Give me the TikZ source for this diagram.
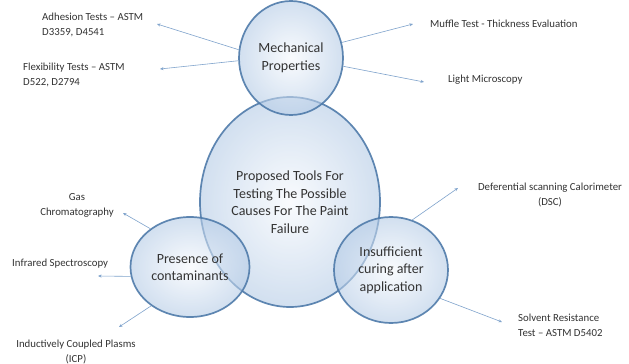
\documentclass[tikz,border=0pt]{standalone}
\usepackage{fontspec}
\setmainfont{Carlito}
\usetikzlibrary{shapes.geometric,arrows.meta}
\definecolor{ringc}{HTML}{4F7BAA}
\definecolor{fillin}{HTML}{F6F9FD}
\definecolor{fillout}{HTML}{B4CBE6}
\definecolor{linkc}{HTML}{7FA3CC}
\definecolor{txtc}{HTML}{333333}
\begin{document}
\begin{tikzpicture}[x=1pt,y=-1pt,
  bubble/.style={ellipse, inner sep=0pt, align=center, text=txtc,
    font=\fontsize{14}{17.5}\selectfont,
    inner color=fillin, outer color=fillout, fill opacity=0.6, text opacity=1,
    draw=ringc, draw opacity=0.9, line width=1.7pt},
  lbl/.style={inner sep=0pt, text=txtc, font=\fontsize{10.8}{15}\selectfont},
  link/.style={draw=linkc, line width=0.6pt, -{Stealth[length=3.5pt,width=3pt]}}]
\useasboundingbox (0,0) rectangle (629,364);
\fill[white] (0,0) rectangle (629,364);
% bubbles
\node[bubble, minimum width=180pt, minimum height=210pt] (core) at (290,202)
  {Proposed Tools For\\Testing The Possible\\Causes For The Paint\\Failure};
\node[bubble, minimum width=104pt, minimum height=114pt] (mech) at (291,58)
  {Mechanical\\Properties};
\node[bubble, minimum width=119pt, minimum height=100pt] (cont) at (190,267)
  {Presence of\\contaminants};
\node[bubble, minimum width=114pt, minimum height=106pt] (cure) at (391,270)
  {Insufficient\\curing after\\application};
% labels
\node[lbl, anchor=west, align=left] (adh) at (42,24.5) {Adhesion Tests – ASTM\\D3359, D4541};
\node[lbl, anchor=west, align=left] (flex) at (23,75) {Flexibility Tests – ASTM\\D522, D2794};
\node[lbl, anchor=west] (muf) at (430,24) {Muffle Test - Thickness Evaluation};
\node[lbl, anchor=west] (lm) at (448,80) {Light Microscopy};
\node[lbl, align=center] (gas) at (77,205.5) {Gas\\Chromatography};
\node[lbl, anchor=west] (ir) at (12,264) {Infrared Spectroscopy};
\node[lbl, align=center] (icp) at (76,351.5) {Inductively Coupled Plasms\\(ICP)};
\node[lbl, align=center] (dsc) at (550,195) {Deferential scanning Calorimeter\\(DSC)};
\node[lbl, anchor=west, align=left] (sol) at (518,325) {Solvent Resistance\\Test – ASTM D5402};
% arrow tips
\coordinate (tadh) at (157,24);
\coordinate (tflex) at (160,69);
\coordinate (tmuf) at (413,24);
\coordinate (tlm) at (424,82);
\coordinate (tgas) at (123,213);
\coordinate (tir) at (98,276);
\coordinate (ticp) at (119,327);
\coordinate (tdsc) at (458,188);
\coordinate (tsol) at (502,322);
% connectors
\draw[link] (mech.171) -- (tadh);
\draw[link] (mech.183) -- (tflex);
\draw[link] (mech.17) -- (tmuf);
\draw[link] (mech.351) -- (tlm);
\draw[link] (cont.136) -- (tgas);
\draw[link] (cont.189) -- (tir);
\draw[link] (cont.225) -- (ticp);
\draw[link] (cure.67) -- (tdsc);
\draw[link] (cure.330) -- (tsol);
\end{tikzpicture}
\end{document}
